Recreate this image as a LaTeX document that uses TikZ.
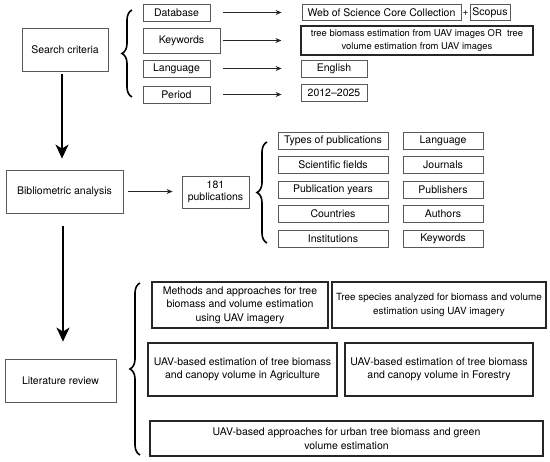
\documentclass[tikz,border=0pt]{standalone}
\usepackage{fontspec}
\setmainfont{TeX Gyre Heros}
\usetikzlibrary{arrows.meta,decorations.pathreplacing}
\begin{document}
\begin{tikzpicture}[x=1pt,y=-1pt,
  box/.style={draw=black!65,line width=0.8pt,inner sep=0pt,align=center,font=\fontsize{10.5}{12.5}\selectfont},
  bigbox/.style={draw=black!85,line width=1.3pt,inner sep=0pt,align=center,font=\fontsize{10.5}{13.5}\selectfont},
  thinarrow/.style={-{Stealth[length=6pt,width=5pt]},line width=0.7pt,black!85},
  bigarrow/.style={-{Stealth[length=14pt,width=13pt,inset=4pt]},line width=1.5pt},
  curly/.style={decorate,decoration={brace,amplitude=10pt},line width=1.6pt}]
\useasboundingbox (0,0) rectangle (550,462);
% Search criteria
\node[box,minimum width=86pt,minimum height=43pt] (search) at (65,49.5) {Search criteria};
\node[box,minimum width=67pt,minimum height=17pt] (db) at (176.5,12.5) {Database};
\node[box,minimum width=77pt,minimum height=25pt] (kw) at (181.5,40.5) {Keywords};
\node[box,minimum width=67pt,minimum height=17pt] (lang) at (176.5,68.5) {Language};
\node[box,minimum width=67pt,minimum height=17pt] (period) at (176.5,94.5) {Period};
\node[box,minimum width=159pt,minimum height=16pt] (wos) at (381.5,12.5) {Web of Science Core Collection};
\node[font=\fontsize{10}{12}\selectfont,inner sep=0pt] (plus) at (465.5,13) {+};
\node[box,minimum width=40pt,minimum height=16pt] (scopus) at (490,12.5) {Scopus};
\node[box,draw=black!85,line width=1.1pt,minimum width=232pt,minimum height=29pt,font=\fontsize{9.4}{12.5}\selectfont] (kwv) at (417,40.5) {tree biomass estimation from UAV images OR\ \ tree\\volume estimation from UAV images};
\node[box,minimum width=66pt,minimum height=17pt] (english) at (334,68.5) {English};
\node[box,minimum width=66pt,minimum height=17pt] (years) at (334,92.5) {2012--2025};
\draw[thinarrow,shorten <=13pt,shorten >=20pt] (db.east) -- (wos.west);
\draw[thinarrow,shorten <=3pt,shorten >=19pt] (kw.east) -- (kwv.west);
\draw[thinarrow,shorten <=13pt,shorten >=19pt] (lang.east) -- (lang.east -| english.west);
\draw[thinarrow,shorten <=13pt,shorten >=19pt] (period.east) -- (period.east -| years.west);
\coordinate (b1t) at (132,10);
\coordinate (b1b) at (132,97);
\draw[curly] (b1b) -- (b1t);
% Bibliometric analysis
\node[box,minimum width=117pt,minimum height=43pt] (biblio) at (64.5,191.5) {Bibliometric analysis};
\node[box,minimum width=67pt,minimum height=32pt,font=\fontsize{10.5}{11.5}\selectfont] (pubs) at (215.5,192) {181\\publications};
\draw[thinarrow,shorten <=5pt,shorten >=9pt] (biblio.east) -- (biblio.east -| pubs.west);
\coordinate (b2t) at (267,142);
\coordinate (b2b) at (267,243);
\draw[curly] (b2b) -- (b2t);
\foreach \n/\y/\a/\b in {1/141/Types of publications/Language,
                        2/165/Scientific fields/Journals,
                        3/189.5/Publication years/Publishers,
                        4/214/Countries/Authors,
                        5/238.5/Institutions/Keywords}{
  \node[box,minimum width=110pt,minimum height=17pt] (l\n) at (333,\y) {\a};
  \node[box,minimum width=80pt,minimum height=17pt] (r\n) at (443,\y) {\b};
}
\draw[bigarrow,shorten <=3pt,shorten >=11pt] ([xshift=-3pt]search.south) -- ([xshift=-3pt]search.south |- biblio.north);
% Literature review
\node[box,minimum width=111pt,minimum height=43pt] (lit) at (60.5,380.5) {Literature review};
\draw[bigarrow,shorten <=13pt,shorten >=17pt] ([xshift=-1.5pt]biblio.south) -- ([xshift=-1.5pt]biblio.south |- lit.north);
\coordinate (b3t) at (140,283);
\coordinate (b3b) at (140,455);
\draw[curly] (b3b) -- (b3t);
\node[bigbox,minimum width=176pt,minimum height=46pt] (methods) at (240,305) {Methods and approaches for tree\\biomass and volume estimation\\using UAV imagery};
\node[bigbox,minimum width=214pt,minimum height=46pt,font=\fontsize{9.9}{13.5}\selectfont] (species) at (439,305) {Tree species analyzed for biomass and volume\\estimation using UAV imagery};
\node[bigbox,minimum width=189pt,minimum height=53pt] (agri) at (242.5,369.5) {UAV-based estimation of tree biomass\\and canopy volume in Agriculture};
\node[bigbox,minimum width=188pt,minimum height=53pt] (forest) at (439,369.5) {UAV-based estimation of tree biomass\\and canopy volume in Forestry};
\node[bigbox,minimum width=393pt,minimum height=35pt] (urban) at (346.5,438.5) {UAV-based approaches for urban tree biomass and green\\volume estimation};
\end{tikzpicture}
\end{document}
